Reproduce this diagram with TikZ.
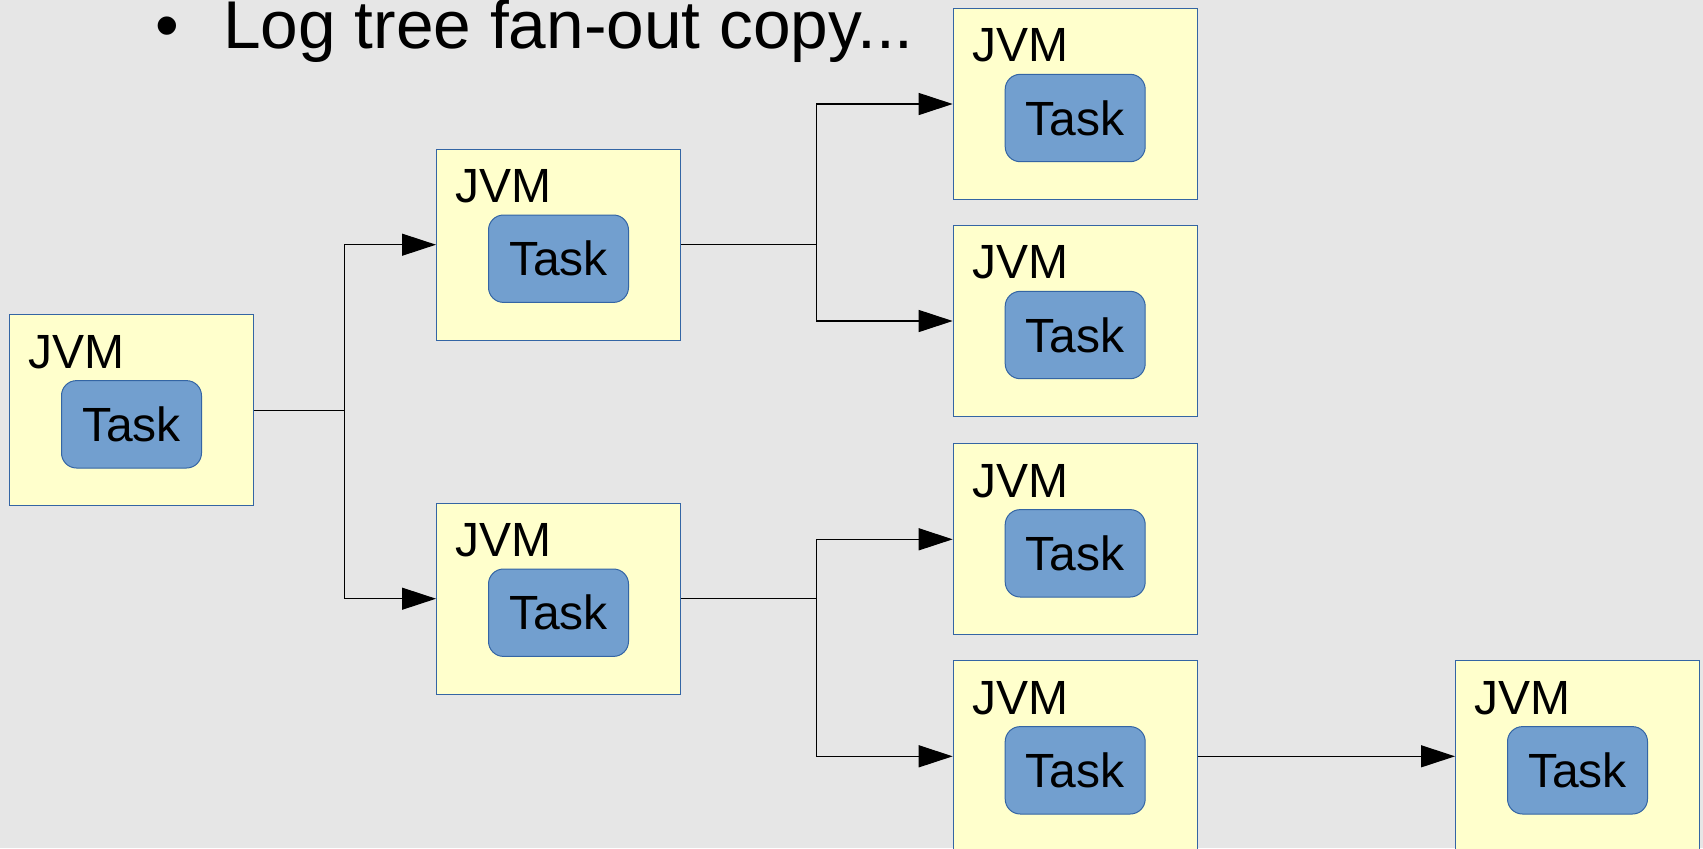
\documentclass[tikz,border=0pt]{standalone}
\usepackage{fontspec}
\setmainfont{Liberation Sans}
\usetikzlibrary{arrows.meta,calc}
\definecolor{pagebg}{HTML}{E6E6E6}
\definecolor{jvmfill}{HTML}{FFFFCC}
\definecolor{taskfill}{HTML}{729FCF}
\definecolor{edgeblue}{HTML}{3465A4}

% A JVM box with its label and the task inside it
\newcommand\jvmnode[3]{%
  \node[jvmbox] (#1) at (#2,#3) {};
  \node[jvmlabel] (#1-label) at ($(#1.north west)+(19,53.7)$) {JVM};
  \node[taskbox] (#1-task) at ($(#1.center)+(0,14)$) {Task};
}

\begin{document}
\begin{tikzpicture}[x=0.5pt,y=-0.5pt,
  jvmbox/.style={draw=edgeblue, line width=0.5pt, fill=jvmfill,
    minimum width=122pt, minimum height=95.5pt, inner sep=0pt, anchor=north west},
  taskbox/.style={draw=edgeblue, line width=0.5pt, fill=taskfill, rounded corners=7.5pt,
    minimum width=70pt, minimum height=43.7pt, inner sep=0pt,
    font=\fontsize{24}{24}\selectfont},
  jvmlabel/.style={anchor=base west, inner sep=0pt, font=\fontsize{24}{24}\selectfont},
  heading/.style={anchor=base west, inner sep=0pt, font=\fontsize{33.8}{34}\selectfont},
  link/.style={line width=0.6pt, -{Triangle[length=17pt,width=11pt]}}
]
\fill[pagebg] (0,0) rectangle (1703,848);
\useasboundingbox (0,0) rectangle (1703,848);

% heading
\node[heading] (bullet) at (155,48) {•};
\node[heading] (title) at (223,48) {Log tree fan-out copy...};

% boxes
\jvmnode{a}{9}{314.3}
\jvmnode{b1}{436}{148.7}
\jvmnode{b2}{436}{502.7}
\jvmnode{c1}{952.7}{8}
\jvmnode{c2}{952.7}{225}
\jvmnode{c3}{952.7}{443.3}
\jvmnode{c4}{952.7}{660.3}
\jvmnode{d}{1455}{660.3}

% branching columns
\coordinate (j1) at (344.3,0);
\coordinate (j2) at (816.3,0);

% connectors
\draw[link] (a.east) -- (a.east -| j1) |- (b1.west);
\draw[link] (a.east) -- (a.east -| j1) |- (b2.west);
\draw[link] (b1.east) -- (b1.east -| j2) |- (c1.west);
\draw[link] (b1.east) -- (b1.east -| j2) |- (c2.west);
\draw[link] (b2.east) -- (b2.east -| j2) |- (c3.west);
\draw[link] (b2.east) -- (b2.east -| j2) |- (c4.west);
\draw[link] (c4.east) -- (d.west);
\end{tikzpicture}
\end{document}
